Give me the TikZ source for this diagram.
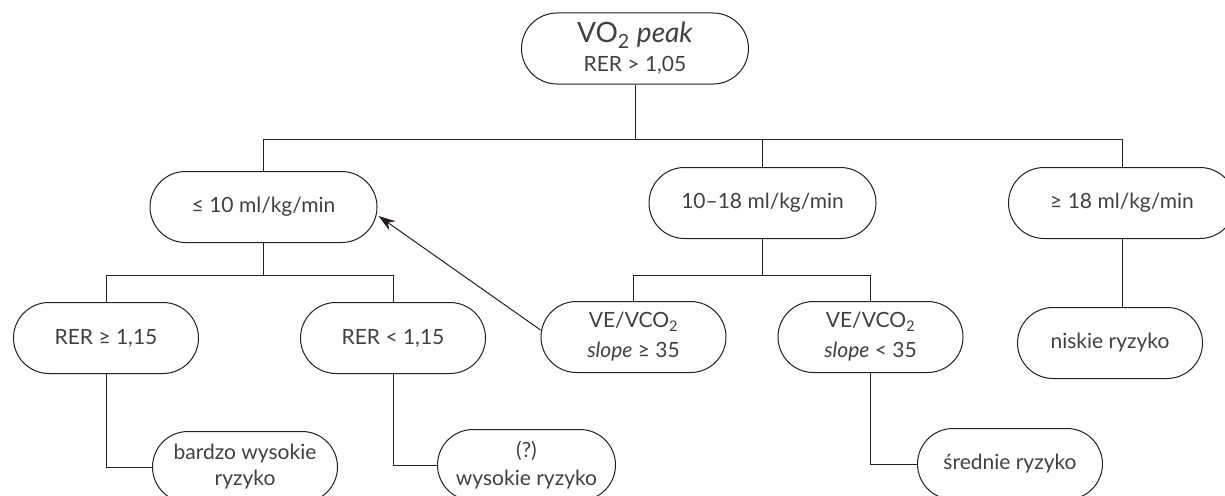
\documentclass[tikz,border=0pt]{standalone}
\usepackage{fontspec}
\setmainfont{Lato}
\usetikzlibrary{arrows.meta,calc}
\definecolor{linec}{HTML}{231F20}
\definecolor{textc}{HTML}{404040}
\tikzset{
  pill/.style={draw=linec, line width=1pt, rounded corners=35.5pt, minimum width=185pt,
    minimum height=71pt, inner sep=0pt, align=center, text=textc,
    font=\fontsize{21}{26}\selectfont},
  widepill/.style={pill, minimum width=227pt},
  conn/.style={draw=linec, line width=1pt},
  arr/.style={conn, -{Stealth[length=17pt,width=11pt]}},
}
\begin{document}
\begin{tikzpicture}[x=1pt,y=-1pt]
\useasboundingbox (0,0) rectangle (1225,495);
% nodes
\node[widepill] (top) at (635,48.5) {{\fontsize{28}{30}\selectfont VO\textsubscript{2} \textit{peak}}\\[3pt]RER > 1,05};
\node[widepill] (le) at (263.5,207) {≤ 10 ml/kg/min};
\node[widepill] (mid) at (762.5,203) {10–18 ml/kg/min};
\node[widepill] (hi) at (1122,203) {≥ 18 ml/kg/min};
\node[pill] (r1) at (106,338) {RER ≥ 1,15};
\node[pill] (r2) at (393,338) {RER < 1,15};
\node[pill] (v1) at (633.5,337) {VE/VCO\textsubscript{2}\\[4pt]\textit{slope} ≥ 35};
\node[pill] (v2) at (870.5,337) {VE/VCO\textsubscript{2}\\[4pt]\textit{slope} < 35};
\node[pill] (low) at (1110,343) {niskie ryzyko};
\node[pill] (vh) at (245,467) {bardzo wysokie\\ryzyko};
\node[pill, minimum width=178pt] (q) at (526.5,465) {(?)\\[2pt]wysokie ryzyko};
\node[pill] (sr) at (1010,464) {średnie ryzyko};
% buses
\coordinate (b1) at (635,139);
\coordinate (b2) at (0,275);
% connectors
\draw[conn] (top.south) -- (top.south |- b1);
\draw[conn] (le.north) -- (le.north |- b1) -- (hi.north |- b1) -- (hi.north);
\draw[conn] (mid.north) -- (mid.north |- b1);
\draw[conn] (le.south) -- (le.south |- b2);
\draw[conn] (r1.north) -- (r1.north |- b2) -- (r2.north |- b2) -- (r2.north);
\draw[conn] (mid.south) -- (mid.south |- b2);
\draw[conn] (v1.north) -- (v1.north |- b2) -- (v2.north |- b2) -- (v2.north);
\draw[conn] (hi.south) -- (hi.south |- low.north);
\draw[conn] (r1.south) |- (vh.west);
\draw[conn] (r2.south) |- (q.west);
\draw[conn] (v2.south) |- (sr.west);
\draw[arr] ([yshift=7pt]v1.west) -- ([yshift=-9pt,xshift=1pt]le.east);
\end{tikzpicture}
\end{document}
